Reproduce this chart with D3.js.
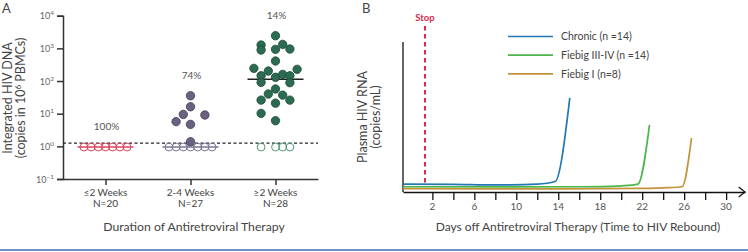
<!DOCTYPE html>
<html>

<head>
    <meta charset="UTF-8" />
    <title>hiv rebound</title>
    <style>
        body {
            margin: 0;
            padding: 0;
            background: #fff;
            font-family: Lato, 'Open Sans', sans-serif;
        }

        svg text {
            fill: #444;
        }
    </style>
</head>

<body>
    <div class="container"></div>

    <script src="https://cdnjs.cloudflare.com/ajax/libs/d3/7.8.5/d3.min.js"></script>
    <script>
        // ---- panel A data ----
        const categories = ["≤2 Weeks", "2-4 Weeks", "≥2 Weeks"];
        const groupN = ["N=20", "N=27", "N=28"];
        const percentLabels = ["100%", "74%", "14%"];
        const yTicksA = [0.1, 1, 10, 100, 1000, 10000];
        const detectLimit = 1.25;
        const undetectValue = 0.95;

        // detected (filled) points, value + beeswarm column
        const detected2to4 = [35.4, 16.3, 9.5, 9.1, 5.7, 4.7, 1.38];
        const cols2to4 = [0, 0, -1, 2, -2, 0, 0];
        const detectedOver2 = [2434, 1264, 889, 933, 1327, 953, 409, 244, 202, 228, 145, 130,
            160, 145, 91, 89, 57, 40, 37, 26, 26, 21, 10.2, 6.1];
        const colsOver2 = [0, -2, -2, 0, 1, 2, 0, -3, -1, 3, -2, 0,
            1, 2, -2, 2, 0, -1, 1, -2, 2, 0, -2, 0];

        // undetected (open) points, drawn as columns
        const openCols = [
            [-3, -2, -1, 0, 1, 2, 3],
            [-3, -2, -1, 0, 1, 2, 3],
            [-2, 0, 1, 2]
        ];
        const medians = [0.95, 0.95, 113];

        // ---- panel B data ----
        const daysTicks = [2, 4, 6, 8, 10, 12, 14, 16, 18, 20, 22, 24, 26, 28, 30];
        const seriesNames = ["Chronic (n =14)", "Fiebig III-IV (n =14)", "Fiebig I (n=8)"];
        const chronic = [[-0.8, 5.3], [4, 5.1], [8, 4.7], [12, 5.3], [13.7, 7], [15.1, 62.7]];
        const fiebig34 = [[-0.8, 3.5], [10, 3.4], [18, 3.6], [20, 4.1], [21.6, 5.3], [22.7, 44.7]];
        const fiebig1 = [[-0.8, 2.2], [14, 2.1], [22, 2.4], [24.5, 2.9], [25.8, 3.5], [26.7, 36]];
        const stopDay = 1.3;

        const w = 748, h = 252;
        const svg = d3.select(".container").append("svg")
            .attr("width", w)
            .attr("height", h);

        const fillCols = ["#d9475c", "#6b6282", "#2b6b51"];
        const openStroke = ["#d9475c", "#7d7596", "#4f9a78"];
        const dotStroke = ["#d9475c", "#3f3852", "#1c4a37"];
        const lineCols = ["#2178b3", "#4db64a", "#c4923a"];

        // ================= panel A =================
        const xA = d3.scalePoint().domain(categories).range([63, 318]).padding(0.5);
        const yA = d3.scaleLog().domain([0.1, 10000]).range([179, 15.7]);
        const colW = 7.2;

        const gA = svg.append("g");

        svg.append("text").attr("x", 2).attr("y", 13)
            .style("font-size", "13px").text("A");

        // y axis
        const yAxisA = d3.axisLeft(yA).tickValues(yTicksA).tickSize(6).tickFormat("");
        const ya = gA.append("g").attr("transform", "translate(63,0)").call(yAxisA);
        ya.select(".domain").attr("stroke", "#333").attr("stroke-width", 1.5);
        ya.selectAll(".tick line").attr("stroke", "#333").attr("stroke-width", 1.5);

        const tickLab = gA.selectAll(".ylab").data(yTicksA).enter().append("text")
            .attr("x", 54)
            .attr("y", d => yA(d) + 3.5)
            .attr("text-anchor", "end")
            .style("font-size", "9px")
            .style("fill", "#666");
        tickLab.append("tspan").text("10");
        tickLab.append("tspan").attr("dy", -4).style("font-size", "6.5px")
            .text(d => d === 0.1 ? "−1" : String(Math.round(Math.log10(d))));

        // x axis
        const xAxisA = d3.axisBottom(xA).tickSize(6).tickFormat("").tickSizeOuter(0);
        const xa = gA.append("g").attr("transform", "translate(0,179)").call(xAxisA);
        xa.select(".domain").attr("stroke", "#333").attr("stroke-width", 1.5);
        xa.selectAll(".tick line").attr("stroke", "#333").attr("stroke-width", 1.5);

        gA.selectAll(".catlab").data(categories).enter().append("text")
            .attr("x", d => xA(d)).attr("y", 196)
            .attr("text-anchor", "middle").style("font-size", "10px").text(d => d);
        gA.selectAll(".nlab").data(groupN).enter().append("text")
            .attr("x", (d, i) => xA(categories[i])).attr("y", 206.5)
            .attr("text-anchor", "middle").style("font-size", "10px").text(d => d);

        gA.append("text").attr("x", 194).attr("y", 231)
            .attr("text-anchor", "middle").style("font-size", "12.2px")
            .text("Duration of Antiretroviral Therapy");

        // y title
        const yt = gA.append("text").attr("transform", "translate(12,98) rotate(-90)")
            .attr("text-anchor", "middle").style("font-size", "12.5px");
        yt.append("tspan").attr("x", 0).attr("y", 0).text("Integrated HIV DNA");
        const yt2 = yt.append("tspan").attr("x", 0).attr("y", 13).text("(copies in 10");
        yt2.append("tspan").attr("dy", -4).style("font-size", "8px").text("6");
        yt2.append("tspan").attr("dy", 4).text(" PBMCs)");

        // detection limit
        gA.append("line")
            .attr("x1", 63).attr("x2", 318)
            .attr("y1", yA(detectLimit)).attr("y2", yA(detectLimit))
            .attr("stroke", "#222").attr("stroke-width", 1.2)
            .attr("stroke-dasharray", "3,2.5");

        // open circles (undetected)
        openCols.forEach((cols, gi) => {
            gA.selectAll(".open" + gi).data(cols).enter().append("circle")
                .attr("cx", d => xA(categories[gi]) + d * colW)
                .attr("cy", yA(undetectValue))
                .attr("r", 3.9)
                .attr("fill", "none")
                .attr("stroke", openStroke[gi])
                .attr("stroke-width", 1);
        });

        // medians
        gA.selectAll(".median").data(medians).enter().append("line")
            .attr("x1", (d, i) => xA(categories[i]) - 28)
            .attr("x2", (d, i) => xA(categories[i]) + 28)
            .attr("y1", d => yA(d)).attr("y2", d => yA(d))
            .attr("stroke", (d, i) => i === 2 ? "#222" : openStroke[i])
            .attr("stroke-width", 1.5);

        // filled circles
        [[detected2to4, cols2to4, 1], [detectedOver2, colsOver2, 2]].forEach(([vals, cols, gi]) => {
            gA.selectAll(".dot" + gi).data(vals).enter().append("circle")
                .attr("cx", (d, i) => xA(categories[gi]) + cols[i] * colW)
                .attr("cy", d => yA(d))
                .attr("r", 4.2)
                .attr("fill", fillCols[gi])
                .attr("stroke", dotStroke[gi])
                .attr("stroke-width", 0.8);
        });

        // percentages above the top point of each group
        const tops = [undetectValue, d3.max(detected2to4), d3.max(detectedOver2)];
        gA.selectAll(".pct").data(percentLabels).enter().append("text")
            .attr("x", (d, i) => xA(categories[i]) + 1)
            .attr("y", (d, i) => yA(tops[i]) - 17)
            .attr("text-anchor", "middle").style("font-size", "10px")
            .style("fill", "#555")
            .text(d => d);

        // ================= panel B =================
        const xB = d3.scaleLinear().domain([-0.8, 31.8]).range([403, 745]);
        const yB = d3.scaleLinear().domain([0, 100]).range([192, 42]);
        const gB = svg.append("g");

        svg.append("text").attr("x", 362).attr("y", 13)
            .style("font-size", "13px").text("B");

        // axes
        gB.append("line").attr("x1", xB(-0.8)).attr("x2", xB(-0.8))
            .attr("y1", yB(100)).attr("y2", yB(0))
            .attr("stroke", "#111").attr("stroke-width", 1.3);

        const xAxisB = d3.axisBottom(xB).tickValues(daysTicks).tickSize(8)
            .tickFormat("").tickSizeOuter(0);
        const xb = gB.append("g").attr("transform", "translate(0,192)").call(xAxisB);
        xb.select(".domain").attr("stroke", "#111").attr("stroke-width", 1.3);
        xb.selectAll(".tick line").attr("stroke", "#111").attr("stroke-width", 1.3);

        gB.append("path")
            .attr("d", d3.line()([[xB(31.2), 187], [xB(31.8), 192], [xB(31.2), 197]]))
            .attr("fill", "none").attr("stroke", "#111").attr("stroke-width", 1.2);

        gB.selectAll(".dlab").data(daysTicks.filter((d, i) => i % 2 === 0)).enter().append("text")
            .attr("x", d => xB(d)).attr("y", 210)
            .attr("text-anchor", "middle").style("font-size", "10px")
            .style("fill", "#555")
            .text(d => d);

        gB.append("text").attr("x", 578).attr("y", 231)
            .attr("text-anchor", "middle").style("font-size", "12px")
            .text("Days off Antiretroviral Therapy (Time to HIV Rebound)");

        const ytB = gB.append("text").attr("transform", "translate(367,117) rotate(-90)")
            .attr("text-anchor", "middle").style("font-size", "12.5px");
        ytB.append("tspan").attr("x", 0).attr("y", 0).text("Plasma HIV RNA");
        ytB.append("tspan").attr("x", 0).attr("y", 13).text("(copies/mL)");

        // stop marker
        gB.append("line")
            .attr("x1", xB(stopDay)).attr("x2", xB(stopDay))
            .attr("y1", 26).attr("y2", 184)
            .attr("stroke", "#d42a4c").attr("stroke-width", 2)
            .attr("stroke-dasharray", "4.5,3.5");
        gB.append("text").attr("x", xB(stopDay)).attr("y", 20.5)
            .attr("text-anchor", "middle")
            .style("font-size", "9.5px").style("font-weight", "bold")
            .style("fill", "#d42a4c").text("Stop");

        // rebound curves
        const lineGen = d3.line()
            .x(d => xB(d[0]))
            .y(d => yB(d[1]))
            .curve(d3.curveMonotoneX);

        [fiebig1, fiebig34, chronic].forEach((s, k) => {
            gB.append("path")
                .attr("d", lineGen(s))
                .attr("fill", "none")
                .attr("stroke", lineCols[2 - k])
                .attr("stroke-width", 1.7);
        });

        // legend
        const leg = gB.selectAll(".leg").data(seriesNames).enter().append("g")
            .attr("transform", (d, i) => `translate(508,${36.5 + i * 18.7})`);
        leg.append("line").attr("x1", 0).attr("x2", 45)
            .attr("stroke", (d, i) => lineCols[i]).attr("stroke-width", 1.7);
        leg.append("text").attr("x", 53).attr("y", 3.8)
            .style("font-size", "10.5px").text(d => d);

        // bottom rule
        svg.append("rect").attr("x", 0).attr("y", 249).attr("width", w).attr("height", 2)
            .attr("fill", "#6d92c4");
    </script>
</body>

</html>
